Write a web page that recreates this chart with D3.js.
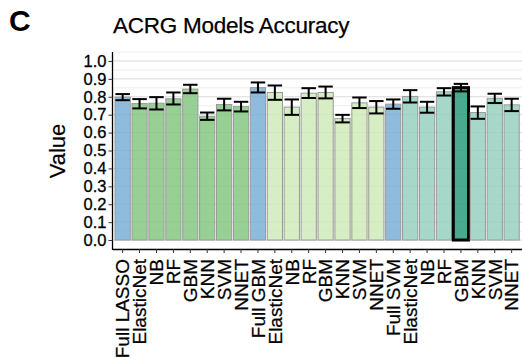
<!DOCTYPE html>
<html>
<head>
<meta charset="utf-8">
<script src="https://cdn.jsdelivr.net/npm/d3@7"></script>
<style>
  html, body { margin: 0; padding: 0; background: #fff; }
  svg { display: block; font-family: "Liberation Sans", Arial, sans-serif; }
</style>
</head>
<body>
<svg id="chart" width="522" height="358"></svg>
<script>
// Model names along the x axis (one bar each)
const models = ["Full LASSO", "ElasticNet", "NB", "RF", "GBM", "KNN", "SVM", "NNET",
                "Full GBM", "ElasticNet", "NB", "RF", "GBM", "KNN", "SVM", "NNET",
                "Full SVM", "ElasticNet", "NB", "RF", "GBM", "KNN", "SVM", "NNET"];
// Feature-selection group of each bar
const groups = ["full", "lasso", "lasso", "lasso", "lasso", "lasso", "lasso", "lasso",
                "full", "gbm", "gbm", "gbm", "gbm", "gbm", "gbm", "gbm",
                "full", "svm", "svm", "svm", "best", "svm", "svm", "svm"];
// Mean accuracy and error-bar bounds
const meanAcc = [0.798, 0.762, 0.764, 0.789, 0.843, 0.691, 0.757, 0.745,
                 0.851, 0.824, 0.742, 0.820, 0.824, 0.678, 0.766, 0.742,
                 0.759, 0.802, 0.742, 0.828, 0.851, 0.712, 0.791, 0.755];
const lowerAcc = [0.781, 0.735, 0.729, 0.757, 0.820, 0.671, 0.724, 0.718,
                  0.824, 0.783, 0.699, 0.793, 0.791, 0.657, 0.737, 0.707,
                  0.733, 0.768, 0.711, 0.807, 0.830, 0.677, 0.765, 0.720];
const upperAcc = [0.815, 0.787, 0.798, 0.824, 0.867, 0.712, 0.789, 0.772,
                  0.880, 0.863, 0.785, 0.848, 0.857, 0.699, 0.796, 0.776,
                  0.785, 0.837, 0.772, 0.848, 0.872, 0.746, 0.817, 0.789];
const yTicks = [0, 0.1, 0.2, 0.3, 0.4, 0.5, 0.6, 0.7, 0.8, 0.9, 1.0];
const yMinor = [-0.05, 0.05, 0.15, 0.25, 0.35, 0.45, 0.55, 0.65, 0.75, 0.85, 0.95, 1.05];

const groupColor = {
  full: "#7bafd6",
  lasso: "#86c781",
  gbm: "#d0eab9",
  svm: "#98d0bf",
  best: "#299b7c"
};

const svg = d3.select("#chart");
const panelLeft = 112.5, panelRight = 521.8, panelTop = 52, panelBottom = 249;

const x = d3.scaleBand()
  .domain(d3.range(models.length))
  .range([panelLeft, panelRight])
  .paddingInner(0.1)
  .paddingOuter(0.15);

const y = d3.scaleLinear().domain([-0.05, 1.05]).range([panelBottom, panelTop]);

// Panel label and title
svg.append("text").attr("x", 9).attr("y", 31)
  .attr("font-size", 30).attr("font-weight", "bold").text("C");
svg.append("text").attr("x", 113).attr("y", 32.5)
  .attr("font-size", 22.5).attr("letter-spacing", -0.25)
  .attr("stroke", "#000").attr("stroke-width", 0.25).text("ACRG Models Accuracy");

// Horizontal grid
const grid = svg.append("g");
grid.selectAll("line.minor").data(yMinor).join("line")
  .attr("class", "minor")
  .attr("x1", panelLeft).attr("x2", panelRight + 1)
  .attr("y1", d => y(d)).attr("y2", d => y(d))
  .attr("stroke", "#e8e8e8").attr("stroke-width", 0.8);
grid.selectAll("line.major").data(yTicks).join("line")
  .attr("class", "major")
  .attr("x1", panelLeft).attr("x2", panelRight + 1)
  .attr("y1", d => y(d)).attr("y2", d => y(d))
  .attr("stroke", "#d9d9d9").attr("stroke-width", 1);

// Bars
const idx = d3.range(models.length);
svg.append("g").selectAll("rect").data(idx).join("rect")
  .attr("x", i => x(i))
  .attr("width", x.bandwidth())
  .attr("y", i => y(meanAcc[i]))
  .attr("height", i => y(0) - y(meanAcc[i]))
  .attr("fill", i => groupColor[groups[i]])
  .attr("fill-opacity", 0.85)
  .attr("stroke", i => groups[i] === "best" ? "#000" : "#9a9a9a")
  .attr("stroke-width", i => groups[i] === "best" ? 3 : 1);

// Error bars
const capW = x.bandwidth() * 0.95;
const eb = svg.append("g").attr("stroke", "#000").attr("stroke-width", 2);
eb.selectAll("line.v").data(idx).join("line")
  .attr("class", "v")
  .attr("x1", i => x(i) + x.bandwidth() / 2).attr("x2", i => x(i) + x.bandwidth() / 2)
  .attr("y1", i => y(lowerAcc[i])).attr("y2", i => y(upperAcc[i]));
eb.selectAll("line.lo").data(idx).join("line")
  .attr("class", "lo")
  .attr("x1", i => x(i) + (x.bandwidth() - capW) / 2).attr("x2", i => x(i) + (x.bandwidth() + capW) / 2)
  .attr("y1", i => y(lowerAcc[i])).attr("y2", i => y(lowerAcc[i]));
eb.selectAll("line.hi").data(idx).join("line")
  .attr("class", "hi")
  .attr("x1", i => x(i) + (x.bandwidth() - capW) / 2).attr("x2", i => x(i) + (x.bandwidth() + capW) / 2)
  .attr("y1", i => y(upperAcc[i])).attr("y2", i => y(upperAcc[i]));

// Y axis
const yAxis = svg.append("g").attr("transform", `translate(${panelLeft},0)`)
  .call(d3.axisLeft(y).tickValues(yTicks).tickFormat(d3.format(".1f")).tickSize(4).tickPadding(2));
yAxis.select(".domain").attr("d", `M0,${panelTop}V${panelBottom + 1}`).attr("stroke", "#000").attr("stroke-width", 1.3);
yAxis.selectAll(".tick line").attr("stroke", "#333");
yAxis.selectAll(".tick text").attr("font-size", 16.5).attr("fill", "#000")
  .attr("stroke", "#000").attr("stroke-width", 0.3)
  .attr("font-family", "Liberation Sans, Arial, sans-serif");

// X axis
const xAxis = svg.append("g").attr("transform", `translate(0,${panelBottom})`)
  .call(d3.axisBottom(x).tickFormat(i => models[i]).tickSize(4).tickSizeOuter(0));
xAxis.select(".domain").attr("stroke", "#000").attr("stroke-width", 1.3);
xAxis.selectAll(".tick line").attr("stroke", "#333");
xAxis.selectAll(".tick text")
  .attr("font-size", 19).attr("fill", "#000")
  .attr("stroke", "#000").attr("stroke-width", 0.25)
  .attr("font-family", "Liberation Sans, Arial, sans-serif")
  .attr("text-anchor", "end")
  .attr("transform", "rotate(-90)")
  .attr("x", -10).attr("y", 0).attr("dy", "0.36em");

// Y axis title
svg.append("text")
  .attr("transform", "translate(65,151) rotate(-90)")
  .attr("text-anchor", "middle").attr("font-size", 22)
  .attr("stroke", "#000").attr("stroke-width", 0.2).text("Value");
</script>
</body>
</html>
